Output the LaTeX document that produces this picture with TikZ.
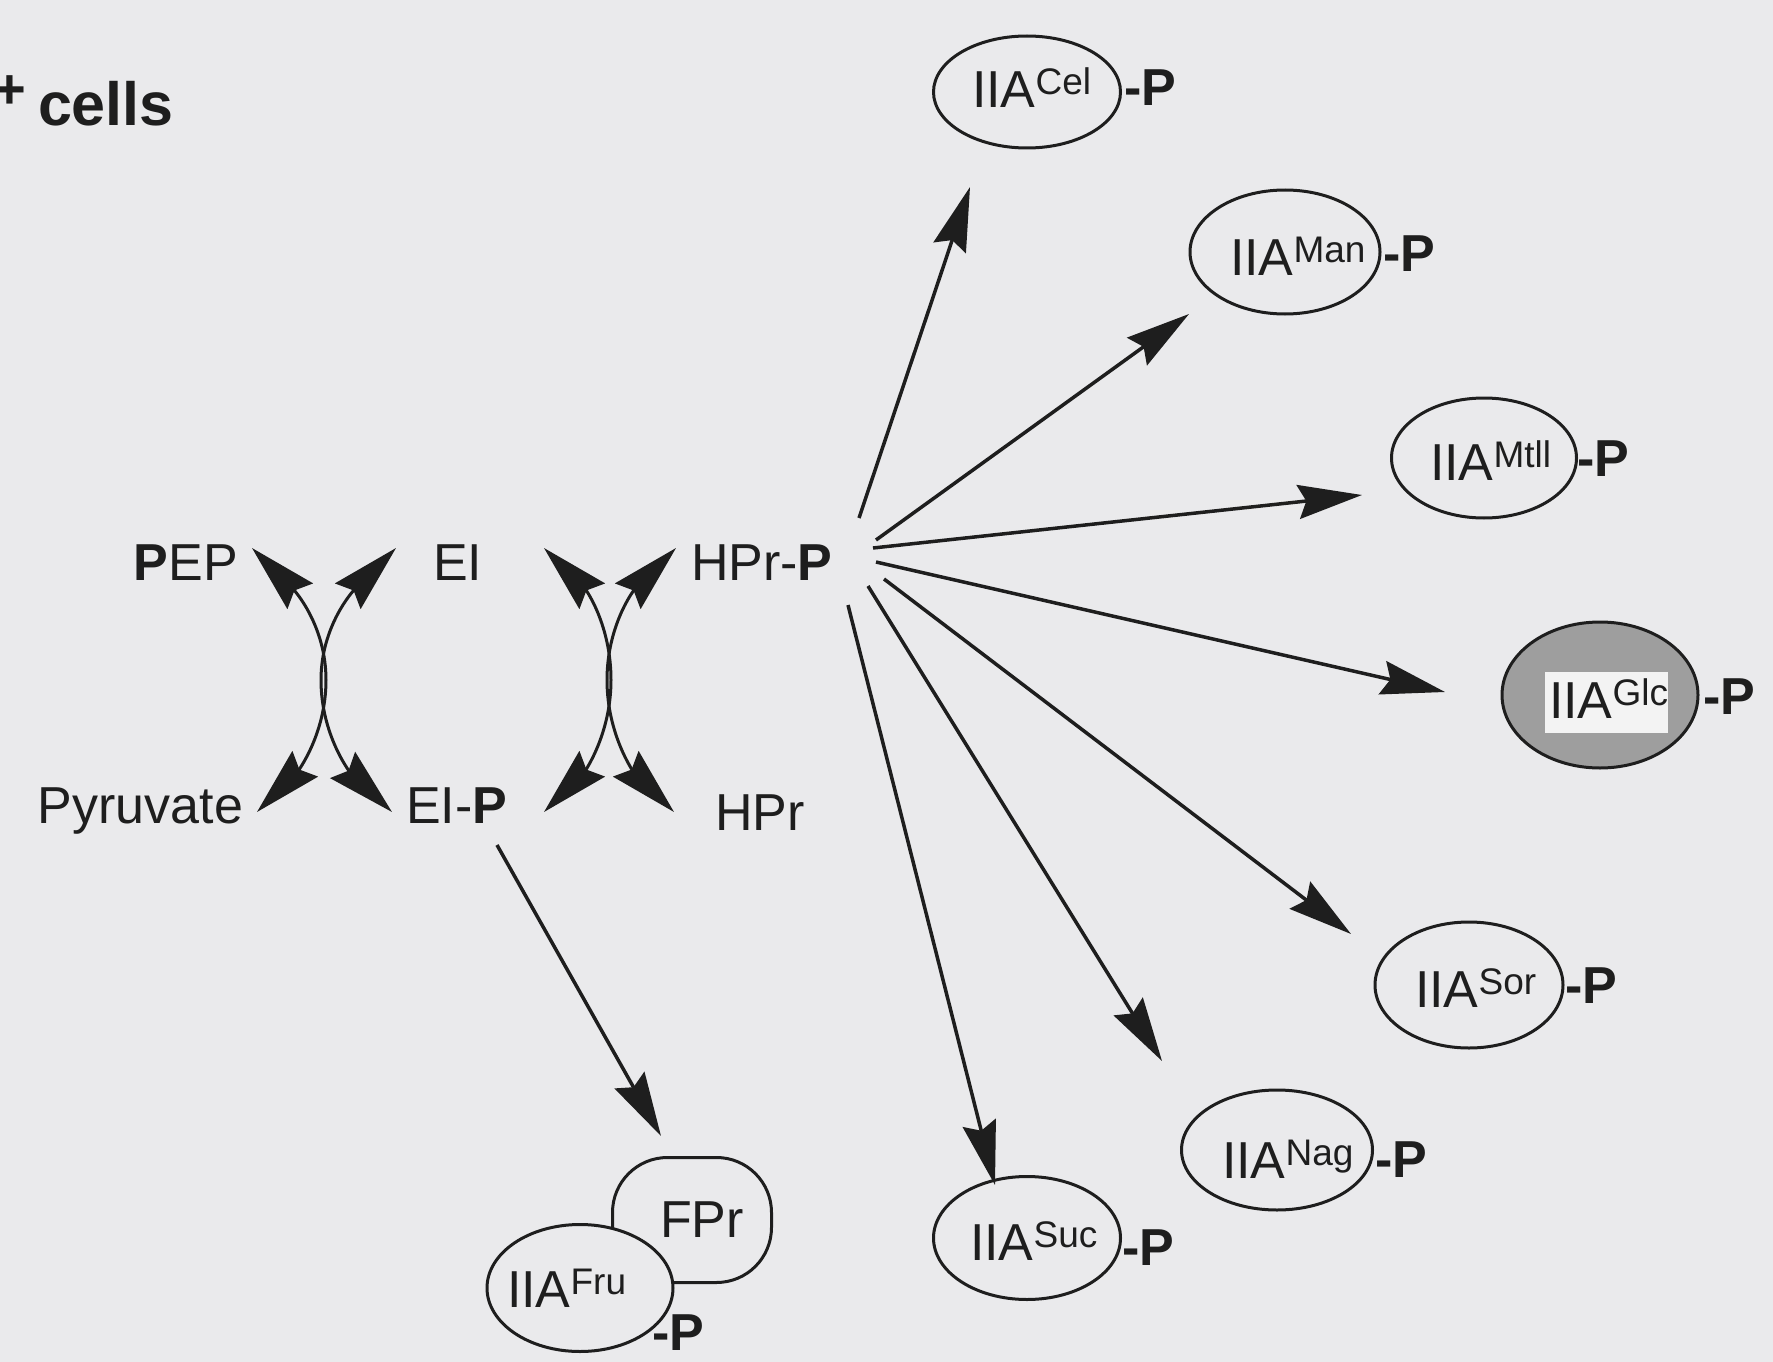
\documentclass[tikz,border=0pt]{standalone}
\usepackage{fontspec}
\setmainfont{Liberation Sans}
\usetikzlibrary{arrows.meta,shapes.geometric}
\definecolor{bg}{RGB}{234,234,236}
\definecolor{ink}{RGB}{30,30,30}
\definecolor{glcfill}{RGB}{158,158,158}
\definecolor{glcwhite}{RGB}{243,243,243}
\newcommand{\spx}[1]{\raisebox{13pt}{\fontsize{37}{40}\selectfont #1}}
\begin{document}
\begin{tikzpicture}[x=1pt,y=-1pt,
  txt/.style={font=\fontsize{52}{60}\selectfont, text=ink, inner sep=0pt, outer sep=0pt},
  oval/.style={draw=ink, line width=3pt, ellipse, inner sep=0pt},
  arr/.style={-{Stealth[length=64pt,width=34pt,inset=8pt]}, line width=3.5pt, draw=ink},
  bi/.style={{Stealth[length=68pt,width=36pt,inset=8pt]}-{Stealth[length=68pt,width=36pt,inset=8pt]}, line width=3pt, draw=ink}]
\fill[bg] (0,0) rectangle (1773,1362);
\useasboundingbox (0,0) rectangle (1773,1362);

% title
\node[txt, font=\fontsize{61}{70}\selectfont\bfseries, anchor=base west] (title) at (38,126) {cells};
\node[txt, font=\fontsize{56}{60}\selectfont\bfseries\itshape] (plus) at (9,92) {+};

% left labels
\node[txt, anchor=base east] (pep) at (238,580) {\textbf{P}EP};
\node[txt, anchor=base west] (ei) at (433,580) {EI};
\node[txt, anchor=base west] (hprp) at (691,580) {HPr-\textbf{P}};
\node[txt, anchor=base east] (pyr) at (243,823) {Pyruvate};
\node[txt, anchor=base west] (eip) at (406,823) {EI-\textbf{P}};
\node[txt, anchor=base west] (hpr) at (715,830) {HPr};

% crossing reversible arrows
\draw[bi] (252,548) .. controls (294,590) and (326,625) .. (326,680) .. controls (326,735) and (297,772) .. (257,812);
\draw[bi] (396,548) .. controls (354,590) and (321,625) .. (321,680) .. controls (321,735) and (350,772) .. (392,812);
\draw[bi] (544,548) .. controls (586,590) and (611,625) .. (611,680) .. controls (611,735) and (584,772) .. (544,812);
\draw[bi] (676,548) .. controls (634,590) and (607,625) .. (607,680) .. controls (607,735) and (634,772) .. (674,812);

% IIA ellipses
\node[oval, minimum width=187pt, minimum height=112pt] (cel) at (1027,92) {};
\node[txt, anchor=base west] (celT) at (972,108) {IIA\spx{Cel}};
\node[txt, anchor=base west] (celP) at (1124,106) {\textbf{-P}};

\node[oval, minimum width=190pt, minimum height=124pt] (man) at (1285,252) {};
\node[txt, anchor=base west] (manT) at (1230,275) {IIA\spx{Man}};
\node[txt, anchor=base west] (manP) at (1383,271) {\textbf{-P}};

\node[oval, minimum width=185pt, minimum height=120pt] (mtl) at (1484,458) {};
\node[txt, anchor=base west] (mtlT) at (1430,480) {IIA\spx{Mtll}};
\node[txt, anchor=base west] (mtlP) at (1577,476) {\textbf{-P}};

\node[oval, fill=glcfill, minimum width=196pt, minimum height=146pt] (glc) at (1600,695) {};
\node[fill=glcwhite, inner sep=0pt, minimum width=123pt, minimum height=61pt] (glcbox) at (1606.5,702.5) {};
\node[txt, anchor=base west] (glcT) at (1549,718) {IIA\spx{Glc}};
\node[txt, anchor=base west] (glcP) at (1703,714) {\textbf{-P}};

\node[oval, minimum width=188pt, minimum height=126pt] (sor) at (1469,985) {};
\node[txt, anchor=base west] (sorT) at (1415,1007) {IIA\spx{Sor}};
\node[txt, anchor=base west] (sorP) at (1565,1003) {\textbf{-P}};

\node[oval, minimum width=191pt, minimum height=120pt] (nag) at (1277,1150) {};
\node[txt, anchor=base west] (nagT) at (1222,1178) {IIA\spx{Nag}};
\node[txt, anchor=base west] (nagP) at (1375,1177) {\textbf{-P}};

\node[oval, minimum width=187pt, minimum height=123pt] (suc) at (1027,1238) {};
\node[txt, anchor=base west] (sucT) at (970,1260) {IIA\spx{Suc}};
\node[txt, anchor=base west] (sucP) at (1122,1265) {\textbf{-P}};

% FPr / IIA Fru
\node[draw=ink, line width=3pt, rounded corners=55pt, minimum width=159pt, minimum height=125pt] (fpr) at (692,1220) {};
\node[txt, anchor=base west] (fprT) at (660,1237) {FPr};
\node[oval, fill=bg, minimum width=186pt, minimum height=127pt] (fru) at (580,1288) {};
\node[txt, anchor=base west] (fruT) at (507,1307) {IIA\spx{Fru}};
\node[txt, anchor=base west] (fruP) at (652,1350) {\textbf{-P}};

% fan arrows from HPr-P
\coordinate (s1) at (859,518);  \coordinate (t1) at (970,187);
\coordinate (s2) at (876,540);  \coordinate (t2) at (1189,314);
\coordinate (s3) at (873,548);  \coordinate (t3) at (1362,495);
\coordinate (s4) at (876,562);  \coordinate (t4) at (1445,692);
\coordinate (s5) at (884,579);  \coordinate (t5) at (1351,934);
\coordinate (s6) at (868,586);  \coordinate (t6) at (1162,1061);
\coordinate (s7) at (848,605);  \coordinate (t7) at (995,1185);
\coordinate (s8) at (497,845);  \coordinate (t8) at (661,1136);
\draw[arr] (s1) -- (t1);
\draw[arr] (s2) -- (t2);
\draw[arr] (s3) -- (t3);
\draw[arr] (s4) -- (t4);
\draw[arr] (s5) -- (t5);
\draw[arr] (s6) -- (t6);
\draw[arr] (s7) -- (t7);
\draw[arr] (s8) -- (t8);
\end{tikzpicture}
\end{document}
